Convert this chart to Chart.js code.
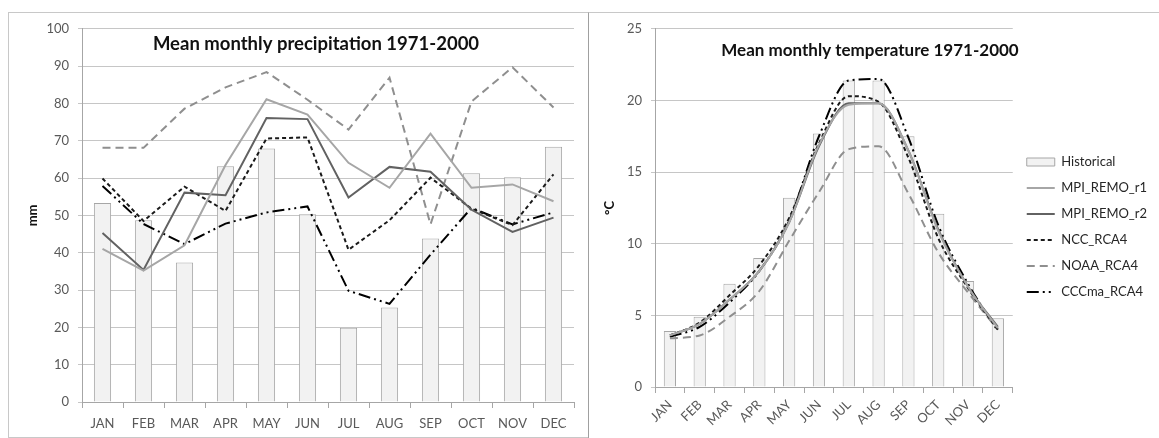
<!DOCTYPE html>
<html>
<head>
<meta charset="utf-8">
<script src="https://cdn.jsdelivr.net/npm/chart.js@4/dist/chart.umd.min.js"></script>
<style>
  html, body { margin: 0; padding: 0; background: #fff; }
  body { width: 1159px; height: 438px; position: relative; overflow: hidden; }
  .frame { position: absolute; box-sizing: border-box; }
  #frameL { left: 8px; top: 12px; width: 581px; height: 426px; border: 1px solid #c8c8c8; }
  #frameR { left: 588px; top: 12px; width: 571px; height: 426px; border-top: 1px solid #c8c8c8; border-left: 1px solid #a0a0a0; }
  canvas { position: absolute; }
  #precip { left: 8px; top: 12px; }
  #temp { left: 589px; top: 12px; }
</style>
</head>
<body>
<div class="frame" id="frameL"></div>
<div class="frame" id="frameR"></div>
<canvas id="precip" width="580" height="425"></canvas>
<canvas id="temp" width="570" height="425"></canvas>
<script>
// Months on the category axis
const months = ['JAN', 'FEB', 'MAR', 'APR', 'MAY', 'JUN', 'JUL', 'AUG', 'SEP', 'OCT', 'NOV', 'DEC'];

// Series names
const seriesNames = ['Historical', 'MPI_REMO_r1', 'MPI_REMO_r2', 'NCC_RCA4', 'NOAA_RCA4', 'CCCma_RCA4'];

// Mean monthly precipitation 1971-2000 (mm)
const precipHistorical = [53.3, 48.7, 37.4, 63.2, 67.9, 50.3, 19.9, 25.3, 43.8, 61.3, 60.2, 68.4];
const precipMpiR1      = [41.0, 35.2, 42.0, 63.5, 81.1, 77.0, 64.1, 57.4, 71.9, 57.4, 58.3, 53.8];
const precipMpiR2      = [45.3, 35.4, 56.1, 55.4, 76.1, 75.8, 54.8, 63.0, 61.7, 51.5, 45.6, 49.4];
const precipNcc        = [59.9, 48.5, 57.7, 51.2, 70.6, 70.9, 40.8, 48.7, 60.1, 51.8, 47.4, 61.0];
const precipNoaa       = [68.1, 68.1, 78.6, 84.3, 88.4, 81.0, 73.0, 86.9, 47.6, 80.5, 89.7, 78.9];
const precipCccma      = [57.9, 47.7, 42.3, 47.8, 50.8, 52.4, 29.8, 26.3, 39.5, 52.0, 47.6, 50.8];

// Mean monthly temperature 1971-2000 (°C)
const tempHistorical = [3.9, 4.9, 7.2, 9.0, 13.2, 17.7, 21.4, 21.4, 17.5, 12.1, 7.4, 4.8];
const tempMpiR1      = [3.6, 4.4, 6.1, 8.1, 11.5, 16.9, 19.7, 19.8, 16.5, 10.9, 7.0, 4.1];
const tempMpiR2      = [3.6, 4.4, 6.1, 8.1, 11.5, 16.8, 19.8, 19.8, 16.5, 11.0, 7.0, 4.2];
const tempNcc        = [3.6, 4.5, 6.4, 8.5, 11.8, 17.0, 20.3, 19.9, 16.0, 10.4, 6.9, 4.0];
const tempNoaa       = [3.4, 3.6, 4.9, 6.7, 10.2, 13.6, 16.6, 16.8, 13.5, 9.4, 6.6, 4.0];
const tempCccma      = [3.5, 4.2, 5.9, 8.1, 11.6, 17.5, 21.4, 21.5, 17.4, 11.3, 7.2, 3.9];

// Axis tick values
const precipTicks = [0, 10, 20, 30, 40, 50, 60, 70, 80, 90, 100];
const tempTicks = [0, 5, 10, 15, 20, 25];

const FONT = 'Lato, "Open Sans", sans-serif';
const GRID = '#c6c6c6';
const AXIS = '#a6a6a6';
const TICK_TEXT = '#595959';

// Line look for each model run
const lineStyles = {
  'MPI_REMO_r1': { color: '#a6a6a6', dash: [] },
  'MPI_REMO_r2': { color: '#626262', dash: [] },
  'NCC_RCA4':    { color: '#1a1a1a', dash: [4, 3] },
  'NOAA_RCA4':   { color: '#8f8f8f', dash: [8, 5] },
  'CCCma_RCA4':  { color: '#000000', dash: [12, 4, 2, 4, 2, 4] }
};

function buildDatasets(hist, lines, smooth, barPct) {
  const sets = [{
    type: 'bar',
    label: seriesNames[0],
    data: hist,
    backgroundColor: '#f2f2f2',
    borderColor: '#a6a6a6',
    borderWidth: 1,
    barPercentage: barPct,
    categoryPercentage: 1,
    order: 1
  }];
  lines.forEach((vals, i) => {
    const name = seriesNames[i + 1];
    const st = lineStyles[name];
    sets.push({
      type: 'line',
      label: name,
      data: vals,
      borderColor: st.color,
      backgroundColor: st.color,
      borderDash: st.dash,
      borderWidth: 2,
      pointRadius: 0,
      pointHoverRadius: 0,
      fill: false,
      cubicInterpolationMode: smooth ? 'monotone' : 'default',
      tension: 0,
      order: 0
    });
  });
  return sets;
}

// Overlay title drawn inside the chart area
const panelTitle = {
  id: 'panelTitle',
  afterDraw(chart, args, opts) {
    if (!opts || !opts.text) return;
    const ctx = chart.ctx;
    ctx.save();
    ctx.font = 'bold ' + opts.size + 'px ' + FONT;
    ctx.fillStyle = '#111';
    ctx.textAlign = 'center';
    ctx.textBaseline = 'alphabetic';
    ctx.fillText(opts.text, opts.x, opts.y);
    ctx.restore();
  }
};

// Small offset for the legend block beside the plot
const legendNudge = {
  id: 'legendNudge',
  afterLayout(chart, args, opts) {
    const lg = chart.legend;
    if (!lg || !opts) return;
    const dx = opts.dx || 0, dy = opts.dy || 0;
    lg.left += dx; lg.right += dx;
    lg.top += dy; lg.bottom += dy;
  }
};
Chart.register(panelTitle, legendNudge);

function yScale(max, step, ticks, width, title, titlePad) {
  return {
    min: 0, max: max,
    afterBuildTicks(scale) { scale.ticks = ticks.map(v => ({ value: v })); },
    afterFit(scale) { scale.width = width; },
    grid: { color: GRID, lineWidth: 1, tickLength: 4, drawTicks: true },
    border: { color: AXIS, width: 1 },
    ticks: { color: TICK_TEXT, font: { family: FONT, size: 13 }, padding: 9, stepSize: step },
    title: { display: true, text: title, color: '#111', font: { family: FONT, size: 13, weight: 'bold' }, padding: { top: titlePad, bottom: 0 } }
  };
}

function xScale(height, rotation, pad) {
  return {
    offset: true,
    afterFit(scale) { scale.height = height; },
    grid: { display: true, drawOnChartArea: false, drawTicks: true, tickLength: 6, color: AXIS, offset: true },
    border: { color: AXIS, width: 1 },
    ticks: {
      color: TICK_TEXT, font: { family: FONT, size: 13 }, padding: pad,
      autoSkip: false, minRotation: rotation, maxRotation: rotation
    }
  };
}

// Precipitation panel
new Chart(document.getElementById('precip'), {
  type: 'bar',
  data: {
    labels: months,
    datasets: buildDatasets(precipHistorical, [precipMpiR1, precipMpiR2, precipNcc, precipNoaa, precipCccma], false, 0.42)
  },
  options: {
    responsive: false,
    animation: false,
    devicePixelRatio: 1,
    layout: { padding: { top: 15, right: 14, left: 0, bottom: 0 } },
    plugins: {
      legend: { display: false },
      tooltip: { enabled: false },
      panelTitle: { text: 'Mean monthly precipitation 1971-2000', x: 308, y: 38, size: 18.5 }
    },
    scales: {
      x: xScale(35, 0, 8),
      y: yScale(100, 10, precipTicks, 74, 'mm', 17)
    }
  }
});

// Temperature panel
new Chart(document.getElementById('temp'), {
  type: 'bar',
  data: {
    labels: months,
    datasets: buildDatasets(tempHistorical, [tempMpiR1, tempMpiR2, tempNcc, tempNoaa, tempCccma], true, 0.41)
  },
  options: {
    responsive: false,
    animation: false,
    devicePixelRatio: 1,
    layout: { padding: { top: 15, right: 5, left: 0, bottom: 0 } },
    plugins: {
      tooltip: { enabled: false },
      panelTitle: { text: 'Mean monthly temperature 1971-2000', x: 281, y: 44, size: 17 },
      legendNudge: { dx: 1, dy: -5 },
      legend: {
        display: true,
        position: 'right',
        align: 'center',
        labels: {
          color: '#262626',
          font: { family: FONT, size: 13 },
          usePointStyle: true,
          pointStyleWidth: 28,
          boxHeight: 8,
          padding: 13,
          sort: (a, b) => a.datasetIndex - b.datasetIndex,
          generateLabels(chart) {
            const items = Chart.defaults.plugins.legend.labels.generateLabels(chart);
            items.forEach(it => {
              const ds = chart.data.datasets[it.datasetIndex];
              if (ds.type === 'line') {
                it.pointStyle = 'line';
                it.strokeStyle = ds.borderColor;
                it.lineWidth = ds.borderWidth;
                it.lineDash = ds.borderDash;
              } else {
                it.pointStyle = 'rect';
                it.fillStyle = ds.backgroundColor;
                it.strokeStyle = ds.borderColor;
                it.lineWidth = 1;
                it.lineDash = [];
              }
            });
            return items;
          }
        }
      }
    },
    scales: {
      x: xScale(50, 45, 4),
      y: yScale(25, 5, tempTicks, 66, '°C', 13)
    }
  }
});
</script>
</body>
</html>
